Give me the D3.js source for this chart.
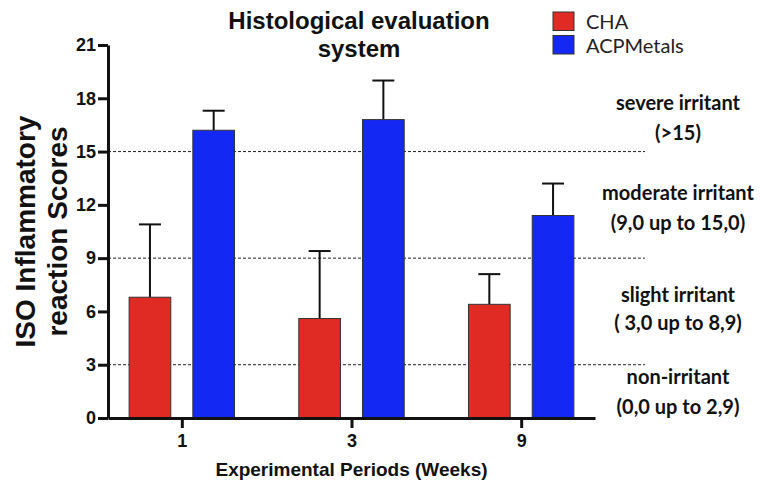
<!DOCTYPE html>
<html>
<head>
<meta charset="utf-8">
<script src="https://cdn.jsdelivr.net/npm/d3@7"></script>
<style>
  body { margin: 0; background: #fff; }
  .axis path, .axis line { stroke: #111; stroke-width: 3px; }
</style>
</head>
<body>
<div id="chart"></div>
<script>
// Data
const periods = ["1", "3", "9"];
const groups = ["CHA", "ACPMetals"];
const chaMean = [6.8, 5.6, 6.4];
const chaErr = [10.9, 9.4, 8.1];
const acpMean = [16.2, 16.8, 11.4];
const acpErr = [17.3, 19.0, 13.2];
const yTicks = [0, 3, 6, 9, 12, 15, 18, 21];
const thresholds = [3, 9, 15];
const zoneLabels = [
  ["severe irritant", "(>15)"],
  ["moderate irritant", "(9,0 up to 15,0)"],
  ["slight irritant", "( 3,0 up to 8,9)"],
  ["non-irritant", "(0,0 up to 2,9)"]
];
const colors = { CHA: "#e02b24", ACPMetals: "#1428f4" };

const helv = "Liberation Sans, Arial, Helvetica, sans-serif";
const calibri = "Lato, Open Sans, sans-serif";

const width = 774, height = 487;
const margin = { top: 45, right: 179, bottom: 69, left: 108 };
const innerW = width - margin.left - margin.right,
  innerH = height - margin.top - margin.bottom;

const svg = d3.select("#chart").append("svg")
  .attr("width", width)
  .attr("height", height);

const g = svg.append("g")
  .attr("transform", `translate(${margin.left},${margin.top})`);

const x = d3.scalePoint().domain(periods).range([0, innerW]).padding(0.435);
const xSub = d3.scaleBand().domain(groups).range([-52.7, 52.7]).paddingInner(0.346);
const y = d3.scaleLinear().domain([0, 21]).range([innerH, 0]);

// rows of data for the bars
const rows = [];
periods.forEach((p, i) => {
  rows.push({ period: p, group: "CHA", mean: chaMean[i], err: chaErr[i] });
  rows.push({ period: p, group: "ACPMetals", mean: acpMean[i], err: acpErr[i] });
});

// threshold dashed lines
g.selectAll(".thr")
  .data(thresholds)
  .enter()
  .append("line")
  .attr("x1", 0)
  .attr("x2", 537)
  .attr("y1", d => y(d))
  .attr("y2", d => y(d))
  .attr("stroke", "#222")
  .attr("stroke-width", 1)
  .attr("stroke-dasharray", "3,2");

// error bars (upper only)
const cx = d => x(d.period) + xSub(d.group) + xSub.bandwidth() / 2;
g.selectAll(".stem")
  .data(rows)
  .enter()
  .append("line")
  .attr("x1", cx)
  .attr("x2", cx)
  .attr("y1", d => y(d.mean))
  .attr("y2", d => y(d.err))
  .attr("stroke", "#111")
  .attr("stroke-width", 2);

g.selectAll(".cap")
  .data(rows)
  .enter()
  .append("line")
  .attr("x1", d => cx(d) - 11)
  .attr("x2", d => cx(d) + 11)
  .attr("y1", d => y(d.err))
  .attr("y2", d => y(d.err))
  .attr("stroke", "#111")
  .attr("stroke-width", 2);

// bars
g.selectAll(".bar")
  .data(rows)
  .enter()
  .append("rect")
  .attr("x", d => x(d.period) + xSub(d.group))
  .attr("y", d => y(d.mean))
  .attr("width", xSub.bandwidth())
  .attr("height", d => innerH - y(d.mean))
  .attr("fill", d => colors[d.group])
  .attr("stroke", "#333")
  .attr("stroke-width", 1);

// axes
const yAxis = g.append("g")
  .attr("class", "axis")
  .call(d3.axisLeft(y).tickValues(yTicks).tickSize(10).tickSizeOuter(0).tickPadding(2));

const xAxis = g.append("g")
  .attr("class", "axis")
  .attr("transform", `translate(0,${innerH})`)
  .call(d3.axisBottom(x).tickSize(10).tickSizeOuter(0).tickPadding(6));

[yAxis, xAxis].forEach(a => {
  a.attr("font-family", helv).attr("font-size", 18).attr("font-weight", "bold");
  a.selectAll("text").attr("fill", "#111");
});

// title
const title = svg.append("text")
  .attr("text-anchor", "middle")
  .attr("font-family", helv)
  .attr("font-weight", "bold")
  .attr("font-size", 24)
  .attr("fill", "#111");
title.append("tspan").attr("x", 359).attr("y", 29).text("Histological evaluation");
title.append("tspan").attr("x", 359).attr("y", 57).text("system");

// y label
const yl = svg.append("text")
  .attr("transform", `translate(0,${margin.top + innerH / 2}) rotate(-90)`)
  .attr("text-anchor", "middle")
  .attr("font-family", helv)
  .attr("font-weight", "bold")
  .attr("font-size", 28)
  .attr("fill", "#111");
yl.append("tspan").attr("x", 0).attr("y", 35).text("ISO Inflammatory");
yl.append("tspan").attr("x", 0).attr("y", 67).text("reaction Scores");

// x label
svg.append("text")
  .attr("x", margin.left + innerW / 2)
  .attr("y", 476)
  .attr("text-anchor", "middle")
  .attr("font-family", helv)
  .attr("font-weight", "bold")
  .attr("font-size", 19)
  .attr("fill", "#111")
  .text("Experimental Periods (Weeks)");

// legend
const legend = svg.append("g").attr("transform", "translate(553,12)");
groups.forEach((k, i) => {
  legend.append("rect")
    .attr("x", 0)
    .attr("y", i * 23.5)
    .attr("width", 21)
    .attr("height", 18.5)
    .attr("fill", colors[k])
    .attr("stroke", "#333")
    .attr("stroke-width", 1);
  legend.append("text")
    .attr("x", 33)
    .attr("y", i * 23.5 + 17)
    .attr("font-family", calibri)
    .attr("font-size", 20)
    .attr("fill", "#222")
    .text(k);
});

// zone labels on the right
const zoneY = [[103, 133], [193, 223], [295, 323], [377, 407]];
zoneLabels.forEach((lines, i) => {
  lines.forEach((t, j) => {
    svg.append("text")
      .attr("x", 678)
      .attr("y", zoneY[i][j])
      .attr("dy", "0.35em")
      .attr("text-anchor", "middle")
      .attr("font-family", calibri)
      .attr("font-weight", "bold")
      .attr("font-size", 20)
      .attr("fill", "#111")
      .text(t);
  });
});
</script>
</body>
</html>
